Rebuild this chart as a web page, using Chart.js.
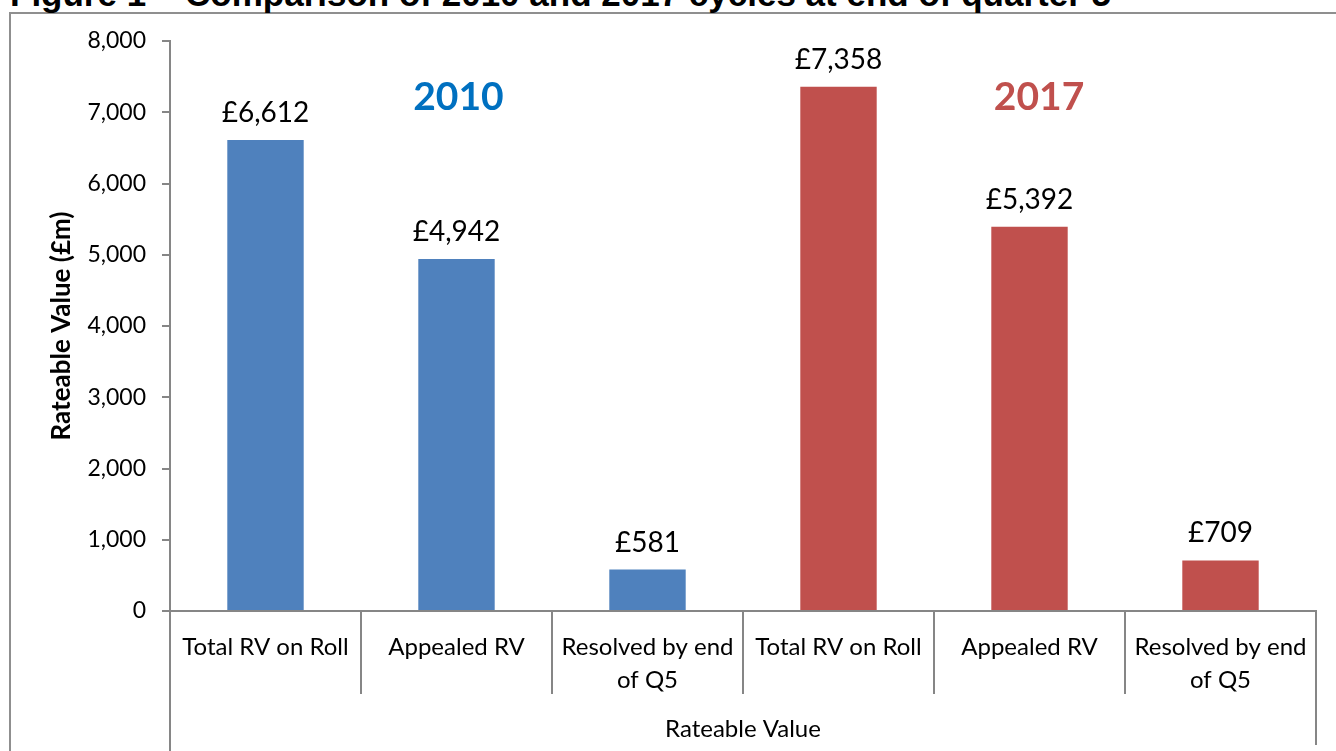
<!DOCTYPE html>
<html>
<head>
<meta charset="utf-8">
<script src="https://cdn.jsdelivr.net/npm/chart.js@4"></script>
<style>
  html, body { margin: 0; padding: 0; background: #fff; overflow: hidden; }
  #marco {
    position: absolute; left: 9px; top: 12px; width: 1400px; height: 800px;
    border: 2px solid #8f8f8f; box-sizing: border-box;
  }
  #titulo {
    position: absolute; left: 10px; top: -24px; margin: 0;
    font: bold 35px "Liberation Sans", Arial, sans-serif; line-height: 35px;
    white-space: nowrap; color: #000;
  }
  #grafico { position: absolute; left: 0; top: 0; }
</style>
</head>
<body>
<div id="marco"></div>
<div id="titulo">Figure 1 – Comparison of 2010 and 2017 cycles at end of quarter 5</div>
<canvas id="grafico" width="1336" height="751"></canvas>
<script>
// Datos del gráfico
const categorias = [
  'Total RV on Roll', 'Appealed RV', ['Resolved by end', 'of Q5'],
  'Total RV on Roll', 'Appealed RV', ['Resolved by end', 'of Q5']
];
const valores = [6612, 4942, 581, 7358, 5392, 709];
const coloresBarras = ['#4F81BD', '#4F81BD', '#4F81BD', '#C0504D', '#C0504D', '#C0504D'];
const yTicks = [0, 1000, 2000, 3000, 4000, 5000, 6000, 7000, 8000];

// Etiquetas de año (ciclo) sobre cada grupo
const anios = ['2010', '2017'];
const aniosCategoria = [1.01, 4.05];
const aniosColor = ['#0070C0', '#C0504D'];
const aniosValorY = 7030;

const FUENTE = 'Lato, "Open Sans", sans-serif';
const GRIS = '#868686';

// Etiquetas de datos, separadores de categorías y años
const pluginEtiquetas = {
  id: 'etiquetas',
  afterDatasetsDraw(chart) {
    const ctx = chart.ctx;
    const meta = chart.getDatasetMeta(0);
    ctx.save();
    ctx.fillStyle = '#000';
    ctx.font = '28px ' + FUENTE;
    ctx.textAlign = 'center';
    ctx.textBaseline = 'alphabetic';
    meta.data.forEach((bar, i) => {
      ctx.fillText('£' + valores[i].toLocaleString('en-GB'), bar.x, bar.y - 18);
    });

    const xs = chart.scales.x;
    const ys = chart.scales.y;
    ctx.font = 'bold 39px ' + FUENTE;
    anios.forEach((a, i) => {
      ctx.fillStyle = aniosColor[i];
      ctx.fillText(a, xs.getPixelForValue(aniosCategoria[i]), ys.getPixelForValue(aniosValorY));
    });
    ctx.restore();
  },
  afterDraw(chart) {
    const ctx = chart.ctx;
    const xs = chart.scales.x;
    const area = chart.chartArea;
    ctx.save();
    ctx.strokeStyle = GRIS;
    ctx.lineWidth = 2;
    ctx.beginPath();
    for (let i = 0; i <= categorias.length; i++) {
      const x = Math.round(xs.getPixelForValue(i - 0.5));
      let fin = area.bottom + 83;
      if (i === 0) fin = chart.height;
      if (i === categorias.length) fin = chart.height - 6;
      ctx.moveTo(x, area.bottom);
      ctx.lineTo(x, fin);
    }
    ctx.stroke();
    ctx.restore();
  }
};

const grafico = new Chart(document.getElementById('grafico'), {
  type: 'bar',
  data: {
    labels: categorias,
    datasets: [{
      data: valores,
      backgroundColor: coloresBarras,
      barPercentage: 0.4,
      categoryPercentage: 1.0
    }]
  },
  options: {
    responsive: false,
    animation: false,
    layout: { padding: { left: 0, top: 41, right: 20, bottom: 0 } },
    plugins: {
      legend: { display: false },
      tooltip: { enabled: false }
    },
    scales: {
      x: {
        offset: true,
        grid: { display: false },
        border: { color: GRIS, width: 2 },
        ticks: {
          color: '#000',
          font: { family: FUENTE, size: 24, lineHeight: 1.38 },
          padding: 12,
          maxRotation: 0,
          autoSkip: false
        },
        title: {
          display: true,
          text: 'Rateable Value',
          color: '#000',
          font: { family: FUENTE, size: 24 },
          padding: { top: 0, bottom: 7 }
        },
        afterFit(scale) { scale.height = 140; }
      },
      y: {
        min: 0,
        max: 8000,
        afterBuildTicks(scale) { scale.ticks = yTicks.map(v => ({ value: v })); },
        grid: { drawOnChartArea: false, drawTicks: true, tickLength: 8, color: GRIS, lineWidth: 2 },
        border: { color: GRIS, width: 2 },
        ticks: {
          color: '#000',
          font: { family: FUENTE, size: 23 },
          padding: 16,
          callback: v => v.toLocaleString('en-GB')
        },
        title: {
          display: true,
          text: 'Rateable Value (£m)',
          color: '#000',
          font: { family: FUENTE, size: 26, weight: 'bold' },
          padding: { top: 46, bottom: 0 }
        },
        afterFit(scale) { scale.width = 170; }
      }
    }
  },
  plugins: [pluginEtiquetas]
});
</script>
</body>
</html>
